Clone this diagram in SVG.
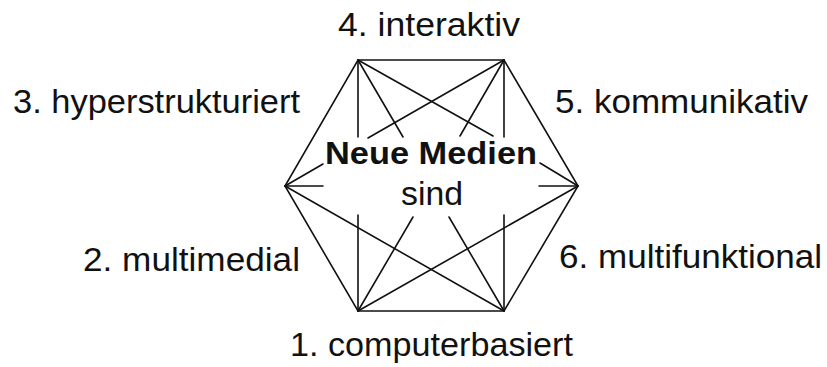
<svg xmlns="http://www.w3.org/2000/svg" width="827" height="367" viewBox="0 0 827 367">
  <style>
    .edge { stroke: #111; stroke-width: 1.6; fill: none; stroke-linecap: round; }
    .lbl { font-family: "Liberation Sans", Arial, sans-serif; font-size: 34px; fill: #111; }
    .title { font-family: "Liberation Sans", Arial, sans-serif; font-size: 31px; font-weight: bold; fill: #111; }
  </style>
  <rect width="827" height="367" fill="#fff"/>

  <!-- hexagon outline and diagonals; lines through the centre stop short of the title -->
  <g id="connectors">
    <polygon class="edge" points="358,60 504,60 578,186 504,311 358,311 285,186"/>
    <!-- continuous diagonals below the title -->
    <line class="edge" x1="285" y1="186" x2="504" y2="311"/>
    <line class="edge" x1="578" y1="186" x2="358" y2="311"/>
    <!-- verticals -->
    <path class="edge" d="M358,60 L358,137 M358,215 L358,311"/>
    <path class="edge" d="M504,60 L504,137 M504,215 L504,311"/>
    <!-- horizontal -->
    <path class="edge" d="M285,186 L323,186 M539,186 L578,186"/>
    <!-- left vertex to top-right -->
    <path class="edge" d="M285,186 L323,164 M368,138 L504,60"/>
    <!-- top-left to right vertex -->
    <path class="edge" d="M358,60 L493,136 M540,163 L578,186"/>
    <!-- top-left to bottom-right -->
    <path class="edge" d="M358,60 L403,137 M449,217 L504,311"/>
    <!-- top-right to bottom-left -->
    <path class="edge" d="M504,60 L460,136 M413,217 L358,311"/>
  </g>

  <g id="centre">
    <text class="title" x="325" y="164" textLength="212" lengthAdjust="spacingAndGlyphs">Neue Medien</text>
    <text class="lbl" x="401" y="205" textLength="62" lengthAdjust="spacingAndGlyphs">sind</text>
  </g>
  <g id="n4"><text class="lbl" x="338" y="36" textLength="182" lengthAdjust="spacingAndGlyphs">4. interaktiv</text></g>
  <g id="n3"><text class="lbl" x="13" y="113" textLength="287" lengthAdjust="spacingAndGlyphs">3. hyperstrukturiert</text></g>
  <g id="n5"><text class="lbl" x="555" y="113" textLength="253" lengthAdjust="spacingAndGlyphs">5. kommunikativ</text></g>
  <g id="n2"><text class="lbl" x="83" y="271" textLength="217" lengthAdjust="spacingAndGlyphs">2. multimedial</text></g>
  <g id="n6"><text class="lbl" x="559" y="268" textLength="263" lengthAdjust="spacingAndGlyphs">6. multifunktional</text></g>
  <g id="n1"><text class="lbl" x="290" y="356" textLength="283" lengthAdjust="spacingAndGlyphs">1. computerbasiert</text></g>
</svg>
